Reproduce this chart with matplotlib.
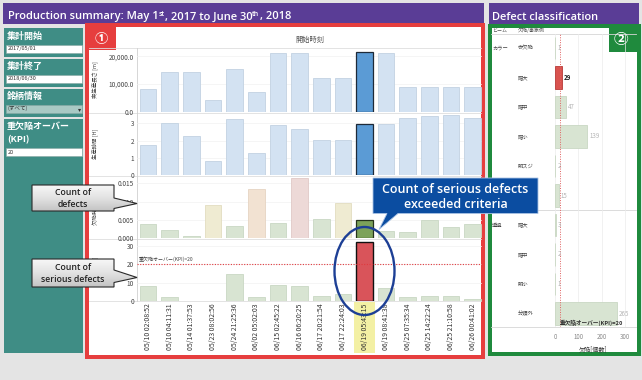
import matplotlib
matplotlib.use("Agg")
import matplotlib.pyplot as plt
import numpy as np
from matplotlib.patches import Rectangle, Polygon, Ellipse
from matplotlib.transforms import blended_transform_factory as blend
from matplotlib.ticker import FuncFormatter
from matplotlib.colors import LinearSegmentedColormap

plt.rcParams['font.family'] = ['Noto Sans CJK JP', 'DejaVu Sans']

# ---------------- data ----------------
start_times = ["05/10 02:08:52", "05/10 04:11:31", "05/14 01:37:53", "05/23 08:02:56",
               "05/24 21:25:36", "06/02 05:02:03", "06/15 02:45:22", "06/16 06:20:25",
               "06/17 20:21:54", "06/17 22:24:03", "06/19 05:43:15", "06/19 08:41:38",
               "06/25 07:35:34", "06/25 14:22:24", "06/25 21:10:58", "06/26 00:41:02"]
prod_length = [8100, 14200, 14200, 4200, 15500, 7100, 21300, 21300,
               12300, 12300, 21700, 21300, 9000, 9000, 9000, 9000]
prod_hours = [1.74, 3.00, 2.27, 0.81, 3.26, 1.26, 2.91, 2.69,
              2.02, 2.05, 2.97, 2.97, 3.33, 3.43, 3.49, 3.33]
defect_rate = [0.0038, 0.0022, 0.0005, 0.0091, 0.0034, 0.0134, 0.0042, 0.0165,
               0.0052, 0.0097, 0.0050, 0.0020, 0.0016, 0.0050, 0.0032, 0.0038]
rate_class = ["g", "g", "g", "y", "g", "o", "g", "p", "g", "y", "g", "g", "g", "g", "g", "g"]
serious_count = [8, 2, 0, 0, 15, 2, 9, 8, 3, 4, 32, 7, 2, 3, 3, 1]
kpi_threshold = 20
selected_index = 10

defect_groups = ["カラー", "", "", "", "", "", "透過", "", "", ""]
defect_types = ["赤欠陥", "暗大", "暗中", "暗小", "明スジ", "明中", "暗大", "暗中", "明小", "分類外"]
defect_counts = [1, 29, 47, 139, 2, 15, 3, 2, 1, 265]
selected_defect = 1

# ---------------- figure ----------------
W, H = 642, 380
PT = 0.72
fig = plt.figure(figsize=(W / 100, H / 100), dpi=100)
fig.patch.set_facecolor('#e4e4e4')
renderer = fig.canvas.get_renderer()


def px_axes(x0, y0, x1, y1, z):
    return fig.add_axes([x0 / W, 1 - y1 / H, (x1 - x0) / W, (y1 - y0) / H], zorder=z)


def overlay(z):
    a = px_axes(0, 0, W, H, z)
    a.set_xlim(0, W)
    a.set_ylim(H, 0)
    a.axis('off')
    a.patch.set_alpha(0)
    return a


bg = overlay(0)
fg = overlay(30)


def rect(ax, x0, y0, x1, y1, **kw):
    p = Rectangle((x0, y0), x1 - x0, y1 - y0, **kw)
    ax.add_patch(p)
    return p


def measure(s, size, **kw):
    t = fig.text(0, 0, s, fontsize=size, **kw)
    w = t.get_window_extent(renderer).width
    t.remove()
    return w


def fit_size(s, target_w, **kw):
    return 10 * target_w / measure(s, 10, **kw)


def runs(ax, x, y, parts, size, **kw):
    objs = []
    cx = x
    for s, rel, dy in parts:
        t = ax.text(cx, y + dy * size / 10, s, fontsize=size * rel, va='baseline', ha='left', **kw)
        cx += t.get_window_extent(renderer).width
        objs.append(t)
    return objs, cx - x


# ---- title bars
purple = '#5a3d96'
rect(bg, 3, 3, 484, 24, fc=purple, ec='none')
rect(bg, 489, 3, 639, 24, fc=purple, ec='none')
tkw = dict(color='white', family=['Open Sans', 'DejaVu Sans'], weight='semibold')
parts = [("Production summary: May 1", 1, 0), ("st", 0.62, -4.5), (", 2017 to June 30", 1, 0),
         ("th", 0.62, -4.5), (", 2018", 1, 0)]
objs, tw = runs(bg, 8, 19.5, parts, 10, **tkw)
for o in objs:
    o.remove()
runs(bg, 8, 19.5, parts, 10 * 284 / tw, **tkw)
s_r = fit_size("Defect classification", 106, **tkw)
bg.text(492, 19.5, "Defect classification", fontsize=s_r, va='baseline', ha='left', **tkw)

# ---- sidebar
teal = '#3f8d85'
for y0, y1 in [(28, 57), (59, 87), (89, 117), (119, 353)]:
    rect(bg, 4, y0, 83, y1, fc=teal, ec='none')
lab_size = fit_size("集計開始", 36, weight='bold')
for y, s in [(36.5, "集計開始"), (66.5, "集計終了"), (96.5, "銘柄情報"), (126.5, "重欠陥オーバー"), (140, "(KPI)")]:
    bg.text(7, y, s, fontsize=lab_size, weight='bold', color='white', va='center', ha='left')
for y0, y1, fc, s in [(45, 52.5, 'white', "2017/05/01"), (75, 82.5, 'white', "2018/06/30"),
                      (105, 112.5, '#a9c9c4', "(すべて)"), (148.3, 155.7, 'white', "20")]:
    rect(bg, 6, y0, 82, y1, fc=fc, ec='#8aa8a4', lw=0.4)
    bg.text(8, (y0 + y1) / 2, s, fontsize=4, color='#333', va='center', ha='left')
bg.text(79.5, 108.8, "▾", fontsize=4.5, color='#333', va='center', ha='center')

# ---- panel frames
red = '#e63e3e'
green = '#1f8a3d'
rect(bg, 87, 25, 482.5, 357, fc='white', ec=red, lw=4 * PT)
rect(bg, 489.7, 26, 638.8, 354, fc='white', ec=green, lw=4 * PT)
rect(bg, 85, 23, 116, 50, fc=red, ec='none')
rect(bg, 609, 24, 640.8, 52, fc=green, ec='none')
bg.text(101.5, 38.5, "①", fontsize=9.5, color='white', ha='center', va='center', weight='bold')
bg.text(621, 39, "②", fontsize=10.5, color='white', ha='center', va='center', weight='bold')

bg.text(310, 39.5, "開始時刻", fontsize=5.2, color='#555', ha='center', va='center')
for y in [48, 112.5, 175.5, 238.5, 301]:
    bg.plot([89, 481], [y, y], color='#dedede', lw=0.6)
bg.plot([137, 137], [48, 301], color='#d0d0d0', lw=0.6)

# ---------------- left charts ----------------
step = 21.65
xmin = -11 / step


def chart_ax(y0, y1, ytop):
    ax = px_axes(137, y0, 482, y1, 5)
    ax.set_xlim(xmin, xmin + 345 / step)
    ax.set_ylim(0, ytop)
    ax.patch.set_alpha(0)
    for sp in ax.spines.values():
        sp.set_visible(False)
    ax.tick_params(axis='both', length=0, labelsize=4.6, colors='#444', pad=2.2)
    ax.set_xticks([])
    ax.grid(axis='y', color='#f1f1f1', lw=0.5)
    ax.set_axisbelow(True)
    return ax


xs = np.arange(len(start_times))
bw = 0.77
blue_c = ['#5b9bd5' if i == selected_index else '#d3e2f2' for i in xs]
blue_e = ['#1e2a38' if i == selected_index else '#c2d2e2' for i in xs]
blue_lw = [0.9 if i == selected_index else 0.6 for i in xs]

ax1 = chart_ax(48, 111.7, 23000)
ax1.bar(xs, prod_length, width=bw, color=blue_c, edgecolor=blue_e, linewidth=blue_lw)
ax1.set_yticks([0, 10000, 20000])
ax1.yaxis.set_major_formatter(FuncFormatter(lambda v, p: f"{v:,.1f}"))

ax2 = chart_ax(112.5, 175, 3.63)
ax2.bar(xs, prod_hours, width=bw, color=blue_c, edgecolor=blue_e, linewidth=blue_lw)
ax2.set_yticks([0, 1, 2, 3])

rate_cols = {"g": '#d8e4d2', "y": '#efebd2', "o": '#f2e2d2', "p": '#edd9d7'}
rate_edges = {"g": '#c9d7c3', "y": '#e2ddc0', "o": '#e6d4c2', "p": '#e0c9c7'}
ax3 = chart_ax(175.5, 238.3, 0.01713)
ax3.bar(xs, defect_rate, width=bw,
        color=['#7ca25a' if i == selected_index else rate_cols[c] for i, c in zip(xs, rate_class)],
        edgecolor=['#26331c' if i == selected_index else rate_edges[c] for i, c in zip(xs, rate_class)],
        linewidth=[0.9 if i == selected_index else 0.6 for i in xs])
ax3.set_yticks([0, 0.005, 0.010, 0.015])
ax3.yaxis.set_major_formatter(FuncFormatter(lambda v, p: f"{v:.3f}"))

ax4 = chart_ax(238.5, 301, 34.15)
ax4.bar(xs, serious_count, width=bw,
        color=['#d9545a' if v > kpi_threshold else '#d8e4d2' for v in serious_count],
        edgecolor=['#111111' if v > kpi_threshold else '#c9d7c3' for v in serious_count],
        linewidth=[1.0 if v > kpi_threshold else 0.6 for v in serious_count])
ax4.set_yticks([0, 10, 20, 30])
ax4.axhline(kpi_threshold, color='#e0393e', ls=(0, (1, 1.4)), lw=0.8)
ax4.text(xmin + 0.1, kpi_threshold + 1.2, f"重欠陥オーバー(KPI)={kpi_threshold}", fontsize=3.6,
         color='#444', va='bottom', ha='left')
tick_size = fit_size(start_times[0], 47)
ax4.set_xticks(xs)
ax4.set_xticklabels(start_times, rotation=90, fontsize=tick_size, color='#333')
ax4.tick_params(axis='x', pad=1.6)

# highlight behind selected tick label
hl = blend(ax4.transData, bg.transData)
bg.add_patch(Rectangle((selected_index - 0.5, 301.5), 1.0, 51.5, transform=hl, fc='#f3f0a4', ec='none'))

for y, s in [(80, "実生産長さ [m]"), (144, "生産時間 [H]"), (207, "欠陥発生率 [%]"), (270, "重欠陥 [件]")]:
    bg.text(95, y, s, rotation=90, fontsize=3.9, color='#444', ha='center', va='center')

# ---------------- right chart ----------------
sc = 70 / 300
axR = px_axes(553, 34, 634, 327, 5)
axR.set_xlim(-2 / sc, 79 / sc)
axR.set_ylim(9 + 13.5 / 29.5, -14 / 29.5)
axR.patch.set_alpha(0)
for sp in axR.spines.values():
    sp.set_visible(False)
rows = np.arange(len(defect_types))
axR.barh(rows, defect_counts, height=0.75,
         color=['#d9534f' if i == selected_defect else '#d8e4d2' for i in rows],
         edgecolor=['#b83a38' if i == selected_defect else '#c9d7c3' for i in rows], linewidth=0.6)
for i, v in zip(rows, defect_counts):
    sel = i == selected_defect
    axR.text(v + 10, i, str(v), fontsize=4.4, va='center', ha='left',
             color='#222' if sel else '#b5b5b5', weight='bold' if sel else 'normal')
axR.axvline(kpi_threshold, color='#e06060', ls=(0, (1, 1.5)), lw=0.7)
axR.set_xticks([0, 100, 200, 300])
axR.set_yticks([])
axR.grid(axis='x', color='#ececec', lw=0.5)
axR.set_axisbelow(True)
axR.tick_params(axis='x', length=0, labelsize=4.4, colors='#888', pad=4)
axR.set_xlabel("欠陥[個数]", fontsize=4.4, color='#333', labelpad=3.5)
axR.text(kpi_threshold, 9.32, f"重欠陥オーバー(KPI)={kpi_threshold}", fontsize=4.1, weight='bold',
         color='#333', va='center', ha='left')

rb = blend(bg.transData, axR.transData)
for i in rows:
    if defect_groups[i]:
        bg.text(492, i, defect_groups[i], transform=rb, fontsize=3.8, color='#444', va='center', ha='left')
    bg.text(518, i, defect_types[i], transform=rb, fontsize=3.8, color='#444', va='center', ha='left')
bg.plot([491, 636], [5.5, 5.5], transform=rb, color='#d6d6d6', lw=0.6)
bg.plot([491, 636], [34, 34], color='#d6d6d6', lw=0.6)
bg.plot([491, 636], [327, 327], color='#d6d6d6', lw=0.6)
bg.text(492, 30.5, "ビーム", fontsize=3.6, color='#555', va='center', ha='left')
bg.text(518, 30.5, "欠陥/事象例", fontsize=3.6, color='#555', va='center', ha='left')

# ---------------- callouts ----------------
gcmap = LinearSegmentedColormap.from_list('gg', ['#f7f7f7', '#e2e2e2', '#c4c4c4'])
ckw = dict(family=['Open Sans', 'DejaVu Sans'], weight='semibold', color='#222')


def gray_callout(pts, lines):
    poly = Polygon(pts, closed=True, fc='none', ec='#2a2a2a', lw=0.8, zorder=3)
    fg.add_patch(poly)
    px = [p[0] for p in pts]
    py = [p[1] for p in pts]
    grad = np.linspace(0, 1, 64).reshape(-1, 1)
    im = fg.imshow(grad, extent=(min(px), max(px), max(py), min(py)), cmap=gcmap,
                   aspect='auto', zorder=2, interpolation='bilinear')
    im.set_clip_path(poly)
    for s, y, size in lines:
        fg.text(73, y, s, fontsize=size, ha='center', va='center', zorder=4, **ckw)


cs = fit_size("serious defects", 64, **ckw)
gray_callout([(32, 185), (114, 185), (114, 198), (137, 203.5), (114, 208.5), (114, 211), (32, 211)],
             [("Count of", 192.3, cs), ("defects", 204.3, cs)])
gray_callout([(32, 259), (114, 259), (114, 270), (137, 277.5), (114, 282.5), (114, 287), (32, 287)],
             [("Count of", 267.3, cs), ("serious defects", 279, cs)])
fg.set_xlim(0, W)
fg.set_ylim(H, 0)

# blue callout
fg.add_patch(Polygon([(373, 178), (538, 178), (538, 213.5), (398, 213.5), (379, 229.5), (387, 213.5), (373, 213.5)],
                     closed=True, fc='#0b4da1', ec='#a9c2e4', lw=0.6, zorder=5))
bkw = dict(family=['Open Sans', 'DejaVu Sans'], weight='semibold', color='white')
bs = fit_size("Count of serious defects", 147, **bkw)
fg.text(455.5, 189.5, "Count of serious defects", fontsize=bs, ha='center', va='center', zorder=6, **bkw)
fg.text(455.5, 204.5, "exceeded criteria", fontsize=bs, ha='center', va='center', zorder=6, **bkw)

# ellipse around the selected bar
eb = blend(ax4.transData, fg.transData)
fg.add_patch(Ellipse((selected_index, 271), 60 / step, 88, transform=eb, fc='none',
                     ec='#1d3f95', lw=1.7, zorder=7))

fig.savefig("out.png", dpi=100, facecolor=fig.get_facecolor())
